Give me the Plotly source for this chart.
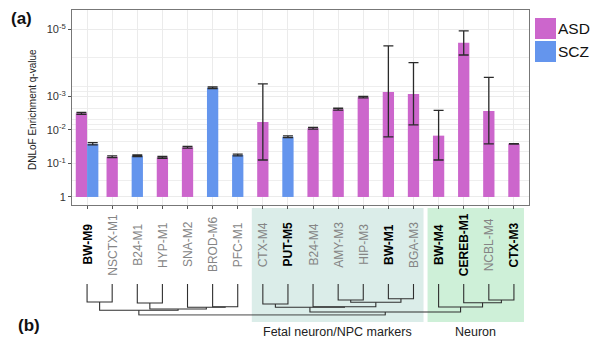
import numpy as np
import plotly.graph_objects as go

# ---------------- data ----------------
categories = ["BW-M9", "NSCTX-M1", "B24-M1", "HYP-M1", "SNA-M2", "BROD-M6", "PFC-M1",
              "CTX-M4", "PUT-M5", "B24-M4", "AMY-M3", "HIP-M3", "BW-M1", "BGA-M3",
              "BW-M4", "CEREB-M1", "NCBL-M4", "CTX-M3"]
highlighted = ["BW-M9", "PUT-M5", "BW-M1", "BW-M4", "CEREB-M1", "CTX-M3"]

asd_modules = ["BW-M9", "NSCTX-M1", "HYP-M1", "SNA-M2", "CTX-M4", "B24-M4", "AMY-M3",
               "HIP-M3", "BW-M1", "BGA-M3", "BW-M4", "CEREB-M1", "NCBL-M4", "CTX-M3"]
asd_q = [3.2e-3, 0.063, 0.066, 0.033, 5.8e-3, 8.9e-3, 2.4e-3,
         1.05e-3, 7.4e-4, 8.5e-4, 0.0148, 2.5e-5, 2.7e-3, 0.026]
asd_q_low = [3.0e-3, 0.059, 0.062, 0.031, 4.2e-4, 8.4e-3, 2.25e-3,
             0.99e-3, 3.1e-5, 9.8e-5, 2.6e-3, 1.1e-5, 2.7e-4, 0.0255]
asd_q_high = [3.4e-3, 0.067, 0.070, 0.035, 0.079, 9.4e-3, 2.55e-3,
              1.11e-3, 0.016, 7.1e-3, 0.079, 5.8e-5, 0.026, 0.0265]

scz_modules = ["BW-M9", "B24-M1", "BROD-M6", "PFC-M1", "PUT-M5"]
scz_q = [0.026, 0.059, 5.5e-4, 0.056, 0.016]
scz_q_low = [0.024, 0.056, 5.2e-4, 0.053, 0.015]
scz_q_high = [0.028, 0.062, 5.8e-4, 0.059, 0.017]

y_tick_q = [1, 1e-1, 1e-2, 1e-3, 1e-5]
y_tick_text = ["1", "10<sup>-1</sup>", "10<sup>-2</sup>", "10<sup>-3</sup>", "10<sup>-5</sup>"]

# dendrogram merges: (child a, child b, merge height); leaves are 0..17, new nodes 18..
dendro_merges = [
    (0, 1, 18), (2, 3, 19), (5, 6, 22.7), (4, 20, 23.2), (19, 21, 25), (18, 22, 26.3),
    (7, 8, 20), (10, 11, 16), (12, 13, 14.7), (25, 26, 18.3), (9, 27, 22.7), (24, 28, 23.2),
    (16, 17, 16), (15, 30, 18.7), (14, 31, 23), (29, 32, 28), (23, 33, 31),
]

groups = [("Fetal neuron/NPC markers", "CTX-M4", "BGA-M3", "#DBEDE9"),
          ("Neuron", "BW-M4", "CTX-M3", "#CEF0D8")]

ASD_COLOR = "#CC66CC"
SCZ_COLOR = "#6495ED"

# ---------------- helpers ----------------
# the page places the figure 8px in from the top-left corner (default body margin)
OFF = 8
W, H = 600 - OFF, 343 - OFF
PLOT_L, PLOT_R, PLOT_T = 72, 529, 10          # in window pixels
ML, MR, MT, MB = PLOT_L - OFF, 600 - PLOT_R, PLOT_T - OFF, 0
PW, PH = PLOT_R - PLOT_L, 343 - PLOT_T


def py(pix):  # window pixel y -> paper y
    return (343 - pix) / PH


def px(pix):  # window pixel x -> paper x
    return (pix - PLOT_L) / PW


pos = {c: i for i, c in enumerate(categories)}
both = set(asd_modules) & set(scz_modules)


def nlog(a):
    return -np.log10(np.asarray(a, dtype=float))


def bar_trace(mods, q, lo, hi, color, name, side):
    v = nlog(q)
    v_top = nlog(lo)
    v_bot = nlog(hi)
    offs = [((-0.45 if side == 0 else 0.0) if m in both else -0.225) for m in mods]
    return go.Bar(
        x=[pos[m] for m in mods], y=v, width=0.45, offset=offs, name=name,
        marker=dict(color=color, line=dict(width=0)),
        error_y=dict(type="data", symmetric=False, array=v_top - v, arrayminus=v - v_bot,
                     color="#2a2a2a", thickness=1.3, width=5),
        showlegend=False, xaxis="x", yaxis="y",
    )


fig = go.Figure()
fig.add_trace(bar_trace(asd_modules, asd_q, asd_q_low, asd_q_high, ASD_COLOR, "ASD", 0))
fig.add_trace(bar_trace(scz_modules, scz_q, scz_q_low, scz_q_high, SCZ_COLOR, "SCZ", 1))

# dendrogram
nx = [float(v) for v in range(len(categories))]
nh = [0.0] * len(categories)
dx, dy = [], []
for a, b, h in dendro_merges:
    dx += [nx[a], nx[a], nx[b], nx[b], None]
    dy += [nh[a], h, h, nh[b], None]
    nx.append((nx[a] + nx[b]) / 2)
    nh.append(h)
fig.add_trace(go.Scatter(x=dx, y=dy, mode="lines", line=dict(color="#2f2f2f", width=1.1),
                         showlegend=False, hoverinfo="skip", xaxis="x2", yaxis="y2"))

# ---------------- layout ----------------
main_bottom, main_top = 205, 10
fig.update_layout(
    width=W, height=H, margin=dict(l=ML, r=MR, t=MT, b=MB, pad=0),
    paper_bgcolor="white", plot_bgcolor="white", barmode="overlay",
    font=dict(family="Liberation Sans, Arial, Helvetica, sans-serif", color="#333"),
    xaxis=dict(type="linear", range=[-0.6, 17.6], domain=[0, 1], anchor="y",
               tickvals=list(range(len(categories))), showticklabels=False,
               ticks="outside", ticklen=3, tickcolor="#555", tickwidth=1,
               showgrid=True, gridcolor="#EBEBEB", gridwidth=1, zeroline=False,
               showline=True, linecolor="#777", linewidth=1, mirror=True),
    yaxis=dict(range=[-0.24, 5.58], domain=[py(main_bottom), py(main_top)], anchor="x",
               tickvals=list(nlog(y_tick_q)), ticktext=y_tick_text,
               tickfont=dict(size=11, color="#333"),
               ticks="outside", ticklen=3, tickcolor="#555", tickwidth=1,
               showgrid=True, gridcolor="#EBEBEB", gridwidth=1, zeroline=False,
               showline=True, linecolor="#777", linewidth=1, mirror=True,
               minor=dict(tickmode="array", tickvals=[4.15, 3.29, 3.16, 2.64, 2.30, 2.17, 1.65, 1.35, 0.5],
                          showgrid=True, gridcolor="#EEEEEE", gridwidth=1, ticks="")),
    xaxis2=dict(range=[-0.6, 17.6], domain=[0, 1], anchor="y2", visible=False),
    yaxis2=dict(range=[31.8, -0.8], domain=[py(315.8), py(283.2)], anchor="x2", visible=False),
)

shapes = []
annotations = []
for label, first, last, color in groups:
    x0 = pos[first] - 0.44
    x1 = pos[last] + 0.40
    shapes.append(dict(type="rect", xref="x", yref="paper", x0=x0, x1=x1,
                       y0=py(322), y1=py(208), fillcolor=color, line=dict(width=0), layer="below"))
    annotations.append(dict(text=label, xref="x", yref="paper", x=(x0 + x1) / 2, y=py(331.5),
                            showarrow=False, xanchor="center", yanchor="middle",
                            font=dict(size=12.5, color="#222")))

for c in categories:
    if c in highlighted:
        txt, col = "<b>" + c + "</b>", "#000"
    else:
        txt, col = c, "#858585"
    annotations.append(dict(text=txt, xref="x", yref="paper", x=pos[c], y=py(244.5),
                            textangle=-90, showarrow=False, xanchor="center", yanchor="middle",
                            font=dict(size=12, color=col)))

# y-axis title
annotations.append(dict(text="DNLoF Enrichment q-value", xref="paper", yref="paper",
                        x=px(32), y=py(110), textangle=-90, showarrow=False,
                        xanchor="center", yanchor="middle", font=dict(size=10, color="#222")))
# panel labels
annotations.append(dict(text="<b>(a)</b>", xref="paper", yref="paper", x=px(21), y=py(8),
                        showarrow=False, xanchor="center", yanchor="top", borderpad=0,
                        font=dict(size=17, color="#111")))
annotations.append(dict(text="<b>(b)</b>", xref="paper", yref="paper", x=px(29), y=py(325),
                        showarrow=False, xanchor="center", yanchor="middle",
                        font=dict(size=17, color="#111")))

# legend
for i, (name, color) in enumerate([("ASD", ASD_COLOR), ("SCZ", SCZ_COLOR)]):
    top = 18 + i * 23
    shapes.append(dict(type="rect", xref="paper", yref="paper", x0=px(535), x1=px(556),
                       y0=py(top + 21), y1=py(top), fillcolor=color, line=dict(width=0)))
    annotations.append(dict(text=name, xref="paper", yref="paper", x=px(557), y=py(top + 10.5),
                            showarrow=False, xanchor="left", yanchor="middle", borderpad=0,
                            font=dict(size=15.5, color="#111")))

fig.update_layout(shapes=shapes, annotations=annotations)
fig.write_html("out.html")
